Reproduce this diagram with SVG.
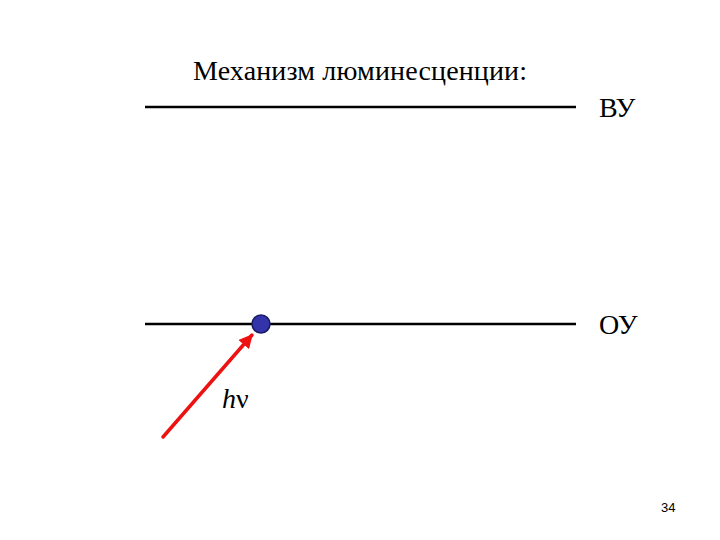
<svg xmlns="http://www.w3.org/2000/svg" width="720" height="540" viewBox="0 0 720 540">
<style>
.t{font-family:"Liberation Serif","Times New Roman",serif;font-size:28px;fill:#000}
.lvl{stroke:#000;stroke-width:2.5}
</style>
<defs>
<marker id="ah" viewBox="0 0 10 10" refX="9" refY="5" markerWidth="4" markerHeight="4" orient="auto" markerUnits="strokeWidth">
<path d="M0,0 L10,5 L0,10 z" fill="#ee1111"/>
</marker>
</defs>
<rect width="720" height="540" fill="#fff"/>
<text class="t" x="193" y="80" textLength="334">Механизм люминесценции:</text>
<g id="vu">
<line class="lvl" x1="145" y1="107" x2="576" y2="107"/>
<text class="t" x="599" y="117">ВУ</text>
</g>
<g id="ou">
<line class="lvl" x1="145" y1="324" x2="576" y2="324"/>
<text class="t" x="599" y="334">ОУ</text>
</g>
<g id="connectors">
<line x1="163" y1="437" x2="252" y2="335" stroke="#ee1111" stroke-width="3.5" stroke-linecap="round" marker-end="url(#ah)"/>
</g>
<g id="electron">
<circle cx="261" cy="324" r="9" fill="#3333aa" stroke="#1a1a66" stroke-width="1.5"/>
</g>
<text class="t" x="222" y="408"><tspan font-style="italic">h</tspan>ν</text>
<text x="661" y="512" font-family="'Liberation Sans',Arial,sans-serif" font-size="13" fill="#000">34</text>
</svg>
